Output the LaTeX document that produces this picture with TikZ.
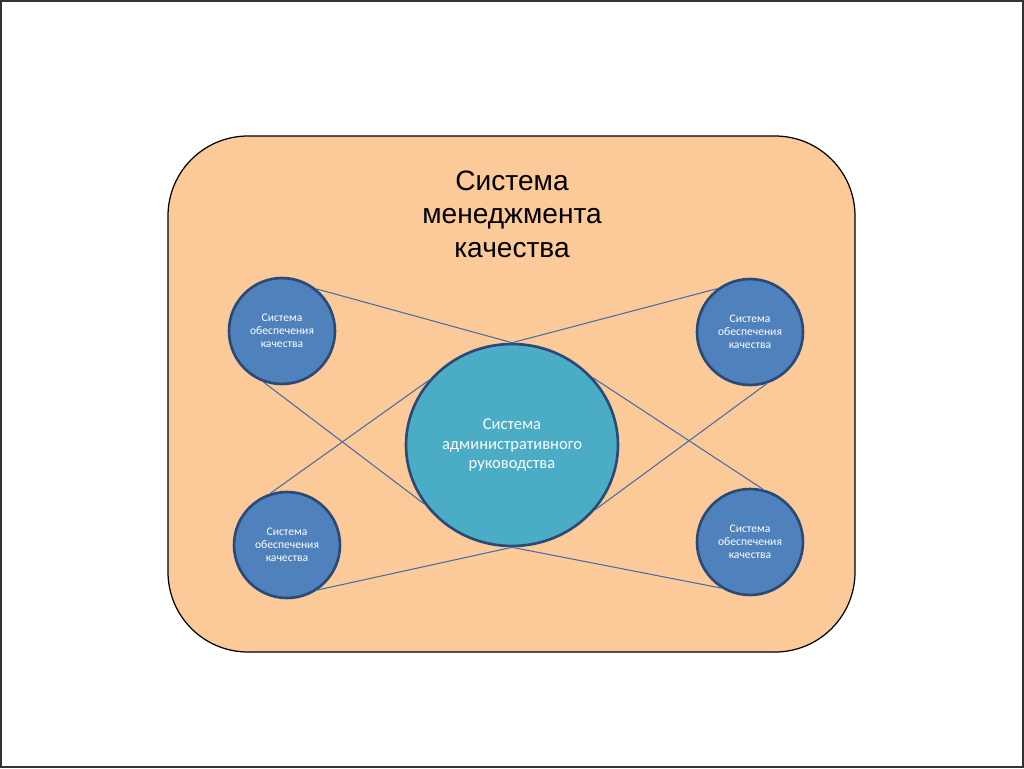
\documentclass[tikz,border=0pt]{standalone}
\usepackage{fontspec}
\setmainfont{Carlito}
\newfontfamily\qmtitlefont{Liberation Sans}
\usetikzlibrary{positioning,shapes.geometric}
\definecolor{qmPeach}{RGB}{251,202,152}
\definecolor{qmTeal}{RGB}{75,172,198}
\definecolor{qmBlue}{RGB}{79,129,189}
\definecolor{qmEdge}{RGB}{41,74,118}
\definecolor{qmLine}{RGB}{70,110,165}
\tikzset{
    base/.style={align=center},
    panel/.style={draw=black, line width=0.7pt, fill=qmPeach, rounded corners=1.6cm},
    heading/.style={base, font=\qmtitlefont\fontsize{16}{19}\selectfont, text=black},
    core/.style={base, ellipse, draw=qmEdge, line width=1.5pt, fill=qmTeal,
                 minimum width=4.24cm, minimum height=4.04cm, inner sep=0pt,
                 font=\fontsize{9.4}{11.2}\selectfont, text=white},
    subsystem/.style={base, circle, draw=qmEdge, line width=1.5pt, fill=qmBlue,
                      minimum size=2.12cm, inner sep=0pt,
                      font=\fontsize{6.6}{7.5}\selectfont, text=white},
    link/.style={draw=qmLine, line width=0.6pt}
}
\begin{document}
\begin{tikzpicture}[x=0.02cm, y=-0.02cm]
  \useasboundingbox (0,0) rectangle (1024,768);
  % slide frame
  \draw[black!80, line width=1.2pt] (1,1) rectangle (1023,767);

  % outer system
  \draw[panel] (168,136) rectangle (855,652);
  \node[heading] (qms) at (512,214) {Система\\менеджмента\\качества};

  % core and the four subsystems
  \node[core] (adm) at (512,445) {Система\\административного\\руководства};
  \node[subsystem] (tl) at (282,331) {Система\\обеспечения\\качества};
  \node[subsystem] (tr) at (750,332) {Система\\обеспечения\\качества};
  \node[subsystem] (bl) at (287,545) {Система\\обеспечения\\качества};
  \node[subsystem] (br) at (750,542) {Система\\обеспечения\\качества};

  % links
  \draw[link] (tl.51) -- (adm.north);
  \draw[link] (tl.250) -- (adm.214);
  \draw[link] (bl.108) -- (adm.142);
  \draw[link] (bl.304) -- (adm.south);
  \draw[link] (tr.127) -- (adm.north);
  \draw[link] (tr.288) -- (adm.322);
  \draw[link] (br.76) -- (adm.40);
  \draw[link] (br.238) -- (adm.south);
\end{tikzpicture}
\end{document}
